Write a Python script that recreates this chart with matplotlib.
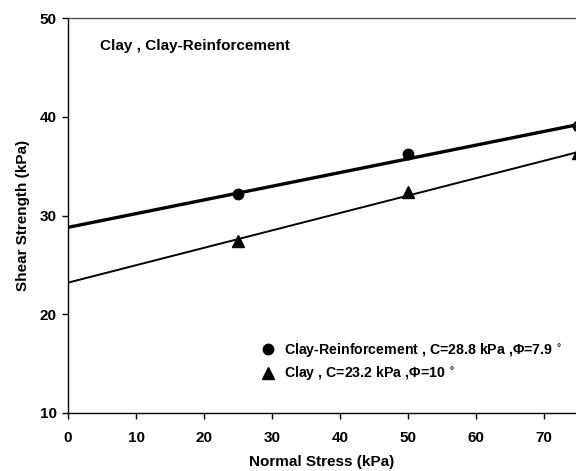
import numpy as np
import matplotlib
matplotlib.use("Agg")
import matplotlib.pyplot as plt

plt.rcParams['font.family'] = ['Liberation Sans', 'DejaVu Sans']
plt.rcParams['font.weight'] = 'bold'

# measured points
stress = [25, 50, 75]
reinf_strength = [32.2, 36.2, 39.1]
clay_strength = [27.4, 32.4, 36.3]

# fitted parameters (cohesion, friction angle)
reinf_c, reinf_phi = 28.8, 7.9
clay_c, clay_phi = 23.2, 10.0

xticks = [0, 10, 20, 30, 40, 50, 60, 70]
yticks = [10, 20, 30, 40, 50]

fig = plt.figure(figsize=(5.76, 4.71), dpi=100)
ax = fig.add_axes([68/576, 1 - 413/471, 1 - 68/576, (413 - 18)/471])

xs = np.array([0, 75])
ax.plot(xs, reinf_c + np.tan(np.radians(reinf_phi)) * xs, color='black', lw=2.4)
ax.plot(xs, clay_c + np.tan(np.radians(clay_phi)) * xs, color='black', lw=1.4)

ax.plot(stress, reinf_strength, 'o', color='black', ms=7.5,
        label='Clay-Reinforcement , C=28.8 kPa ,Φ=7.9 $^{\\circ}$')
ax.plot(stress, clay_strength, '^', color='black', ms=8.5,
        label='Clay , C=23.2 kPa ,Φ=10 $^{\\circ}$')

ax.set_xlim(0, 74.7)
ax.set_ylim(10, 50)
ax.set_xticks(xticks)
ax.set_yticks(yticks)
ax.tick_params(labelsize=11, direction='out', length=4, width=1)
ax.tick_params(axis='x', pad=9)
ax.tick_params(axis='y', pad=4)
for lbl in ax.get_xticklabels() + ax.get_yticklabels():
    lbl.set_fontweight('bold')
ax.spines['right'].set_visible(False)
for s in ['left', 'bottom', 'top']:
    ax.spines[s].set_linewidth(1.0)
ax.spines['top'].set_color('#555555')

ax.set_xlabel('Normal Stress (kPa)', fontsize=11, fontweight='bold', labelpad=7)
ax.set_ylabel('Shear Strength (kPa)', fontsize=11, fontweight='bold', labelpad=7)

ax.text(0.063, 0.93, 'Clay , Clay-Reinforcement', transform=ax.transAxes,
        fontsize=11, fontweight='bold', va='center')

ax.legend(loc='lower left', bbox_to_anchor=(0.355, 0.045), frameon=False,
          handletextpad=0.6, labelspacing=0.4, handlelength=1.0,
          prop={'weight': 'bold', 'size': 10.2})

fig.savefig('out.png', dpi=100)
